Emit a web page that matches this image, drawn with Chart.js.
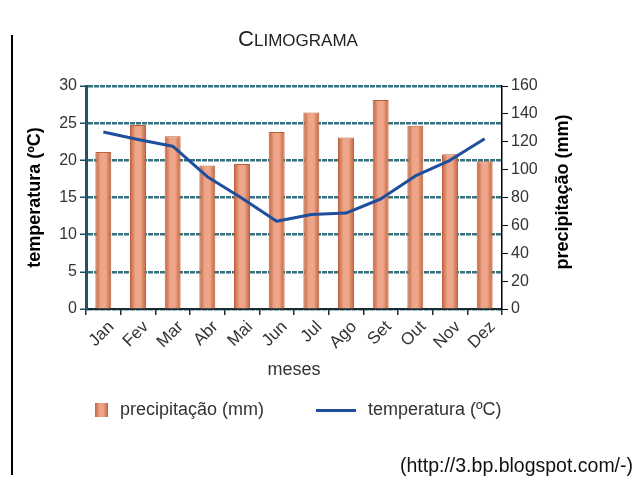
<!DOCTYPE html>
<html>
<head>
<meta charset="utf-8">
<script src="https://cdn.jsdelivr.net/npm/chart.js@4/dist/chart.umd.min.js"></script>
<style>
	body { margin: 0; background: #fff; font-family: "Liberation Sans", Arial, sans-serif; }
	#wrap { position: relative; width: 640px; height: 479px; overflow: hidden; }
	#mycanvas { position: absolute; left: 0; top: 0; }
	#bar { position: absolute; left: 11px; top: 35px; width: 2px; height: 440px; background: #000; }
	.leg { position: absolute; top: 399px; font-size: 18px; color: #333; }
	#sw1 { position: absolute; left: 95px; top: 403px; width: 13px; height: 14px;
		background: linear-gradient(to right, #c2643e, #eda286 35%, #eda286 65%, #c2643e); }
	#sw2 { position: absolute; left: 316px; top: 409px; width: 40px; height: 3px; background: #1f4e9c; }
	#src { position: absolute; left: 400px; top: 454px; font-size: 19.5px; color: #111; white-space: nowrap; }
</style>
</head>
<body>
<div id="wrap">
	<canvas id="mycanvas" width="640" height="479"></canvas>
	<div id="bar"></div>
	<div id="sw1"></div><div class="leg" style="left:120px">precipitação (mm)</div>
	<div id="sw2"></div><div class="leg" style="left:368px">temperatura (ºC)</div>
	<div id="src">(http://3.bp.blogspot.com/-)</div>
</div>
<script>
var meses = ['Jan', 'Fev', 'Mar', 'Abr', 'Mai', 'Jun', 'Jul', 'Ago', 'Set', 'Out', 'Nov', 'Dez'];
var precipitacao = [112.7, 132, 124, 103, 104, 127, 141, 123, 150, 131.5, 111, 106];
var temperatura = [23.8, 22.8, 21.9, 17.8, 14.9, 11.8, 12.7, 12.9, 14.8, 17.9, 20, 22.9];
var ticksTemp = [0, 5, 10, 15, 20, 25, 30];
var ticksPrec = [0, 20, 40, 60, 80, 100, 120, 140, 160];

var FONT = '"Liberation Sans", Arial, sans-serif';

// gradient for each bar, built from the x scale
function barFill(context) {
	var chart = context.chart;
	var x = chart.scales.x;
	if (!x || context.dataIndex === undefined) return '#e8957a';
	var xc = x.getPixelForValue(context.dataIndex);
	if (!isFinite(xc)) return '#e8957a';
	var g = chart.ctx.createLinearGradient(xc - 8, 0, xc + 8, 0);
	g.addColorStop(0, '#c0603a');
	g.addColorStop(0.35, '#eea68a');
	g.addColorStop(0.65, '#eea68a');
	g.addColorStop(1, '#c0603a');
	return g;
}

var textPlugin = {
	id: 'textPlugin',
	afterDraw: function(chart) {
		var ctx = chart.ctx;
		ctx.save();
		ctx.fillStyle = '#222';
		ctx.textBaseline = 'alphabetic';
		// title in small caps
		ctx.font = '22px ' + FONT;
		var w1 = ctx.measureText('C').width;
		ctx.font = '17px ' + FONT;
		var w2 = ctx.measureText('LIMOGRAMA').width;
		var x0 = 298 - (w1 + w2) / 2;
		ctx.textAlign = 'left';
		ctx.font = '22px ' + FONT;
		ctx.fillText('C', x0, 46);
		ctx.font = '17px ' + FONT;
		ctx.fillText('LIMOGRAMA', x0 + w1, 46);
		// right axis title, reading upwards
		ctx.fillStyle = '#000';
		ctx.font = 'bold 18px ' + FONT;
		ctx.translate(563, 192);
		ctx.rotate(-Math.PI / 2);
		ctx.textAlign = 'center';
		ctx.textBaseline = 'middle';
		ctx.fillText('precipitação (mm)', 0, 0);
		ctx.restore();
	}
};

var ctx = document.getElementById('mycanvas');

var chart = new Chart(ctx, {
	type: 'bar',
	data: {
		labels: meses,
		datasets: [
			{
				type: 'line',
				label: 'temperatura (ºC)',
				data: temperatura,
				yAxisID: 'y',
				borderColor: '#1f4e9c',
				borderWidth: 3,
				pointRadius: 0,
				tension: 0,
				borderJoinStyle: 'round',
				order: 1
			},
			{
				type: 'bar',
				label: 'precipitação (mm)',
				data: precipitacao,
				yAxisID: 'y1',
				backgroundColor: barFill,
				borderColor: '#bd5f3a',
				borderWidth: 1,
				categoryPercentage: 1,
				barPercentage: 0.46,
				order: 2
			}
		]
	},
	options: {
		responsive: false,
		animation: false,
		layout: { padding: { top: 86, left: 24, right: 0, bottom: 98 } },
		plugins: {
			legend: { display: false },
			title: { display: false },
			tooltip: { enabled: false }
		},
		scales: {
			x: {
				offset: true,
				afterFit: function(s) { s.height = 72; },
				grid: { offset: true, drawOnChartArea: false, color: '#1a2a30', tickLength: 6, lineWidth: 1.5 },
				border: { color: '#1a2a30', width: 2 },
				ticks: { color: '#333', font: { family: FONT, size: 17 }, maxRotation: 45, minRotation: 45, padding: 2, labelOffset: 8 },
				title: { display: true, text: 'meses', color: '#333', font: { family: FONT, size: 18 }, padding: 0 }
			},
			y: {
				position: 'left',
				min: 0,
				max: 30,
				afterFit: function(s) { s.width = 62; },
				afterBuildTicks: function(s) { s.ticks = ticksTemp.map(function(v) { return { value: v }; }); },
				grid: { color: '#35717f', lineWidth: 2.5, tickColor: '#1d4f5e', tickLength: 6, tickWidth: 1.5 },
				border: { color: '#1d5566', width: 3, dash: [5, 1] },
				ticks: { color: '#333', font: { family: FONT, size: 16 }, padding: 3 },
				title: { display: true, text: 'temperatura (ºC)', color: '#000', font: { family: FONT, size: 18, weight: 'bold' }, padding: 0 }
			},
			y1: {
				position: 'right',
				min: 0,
				max: 160,
				afterFit: function(s) { s.width = 138; },
				afterBuildTicks: function(s) { s.ticks = ticksPrec.map(function(v) { return { value: v }; }); },
				grid: { drawOnChartArea: false, color: '#000', tickLength: 6, tickWidth: 1 },
				border: { color: '#000', width: 1.5 },
				ticks: { color: '#333', font: { family: FONT, size: 16 }, padding: 3 }
			}
		}
	},
	plugins: [textPlugin]
});
</script>
</body>
</html>
